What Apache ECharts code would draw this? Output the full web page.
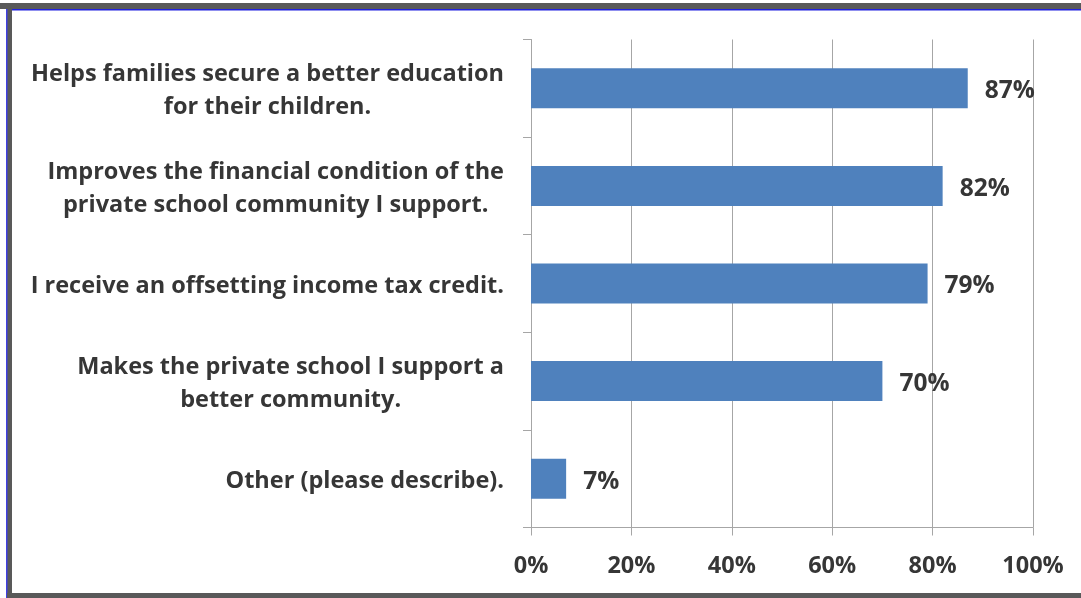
<!DOCTYPE html>
<html>
<head>
<meta charset="utf-8">
<script src="https://cdn.jsdelivr.net/npm/echarts@6/dist/echarts.min.js"></script>
<style>
html,body{margin:0;padding:0;background:#fff;}
#chart{width:1081px;height:598px;}
</style>
</head>
<body>
<div id="chart"></div>
<script>
const categories = [
  "Helps families secure a better education\nfor their children.",
  "Improves the financial condition of the\nprivate school community I support.",
  "I receive an offsetting income tax credit.",
  "Makes the private school I support a\nbetter community.",
  "Other (please describe)."
];
const values = [87, 82, 79, 70, 7];
const tickLabels = ["0%", "20%", "40%", "60%", "80%", "100%"];

const FONT = "Open Sans";
const FS = 23.5;
const TEXT = "#363636";
const GRID = "#a6a6a6";

const chart = echarts.init(document.getElementById('chart'), null, {renderer: 'canvas'});
chart.setOption({
  animation: false,
  backgroundColor: '#fff',
  grid: {left: 531, right: 48, top: 39.5, bottom: 70.5, containLabel: false},
  graphic: [
    {type: 'rect', shape: {x: 0, y: 3, width: 1081, height: 6}, style: {fill: '#595959'}, silent: true},
    {type: 'rect', shape: {x: 11, y: 9, width: 1070, height: 1.5}, style: {fill: '#2020e0'}, silent: true},
    {type: 'rect', shape: {x: 7, y: 3, width: 5, height: 595}, style: {fill: '#595959'}, silent: true},
    {type: 'rect', shape: {x: 6, y: 9, width: 1.5, height: 589}, style: {fill: '#4040e0'}, silent: true},
    {type: 'rect', shape: {x: 7, y: 593, width: 1074, height: 5}, style: {fill: '#595959'}, silent: true}
  ],
  xAxis: {
    type: 'value',
    min: 0, max: 100, interval: 20,
    axisLine: {show: true, lineStyle: {color: GRID, width: 1}},
    axisTick: {show: true, length: 8, lineStyle: {color: GRID}},
    splitLine: {show: true, lineStyle: {color: GRID, width: 1}},
    axisLabel: {
      margin: 27,
      color: TEXT, fontFamily: FONT, fontWeight: 700, fontSize: FS,
      formatter: function (v) { return tickLabels[Math.round(v / 20)]; }
    }
  },
  yAxis: {
    type: 'category',
    inverse: true,
    data: categories,
    axisLine: {show: true, lineStyle: {color: GRID, width: 1}},
    axisTick: {show: true, length: 8, lineStyle: {color: GRID}},
    axisLabel: {
      margin: 27,
      align: 'right',
      padding: [5, 0, 0, 0],
      color: TEXT, fontFamily: FONT, fontWeight: 700, fontSize: FS,
      formatter: function (v) {
        return v.split('\n').map(function (l) { return '{c|' + l + '}'; }).join('\n');
      },
      rich: {
        c: {align: 'center', color: TEXT, fontFamily: FONT, fontWeight: 700, fontSize: FS, lineHeight: 33}
      }
    }
  },
  series: [{
    type: 'bar',
    data: values,
    barCategoryGap: '59%',
    itemStyle: {color: '#4f81bd'},
    label: {
      show: true, position: 'right', distance: 17, offset: [0, 3],
      color: TEXT, fontFamily: FONT, fontWeight: 700, fontSize: 24.5,
      formatter: function (p) { return p.value + '%'; }
    }
  }]
});
</script>
</body>
</html>
